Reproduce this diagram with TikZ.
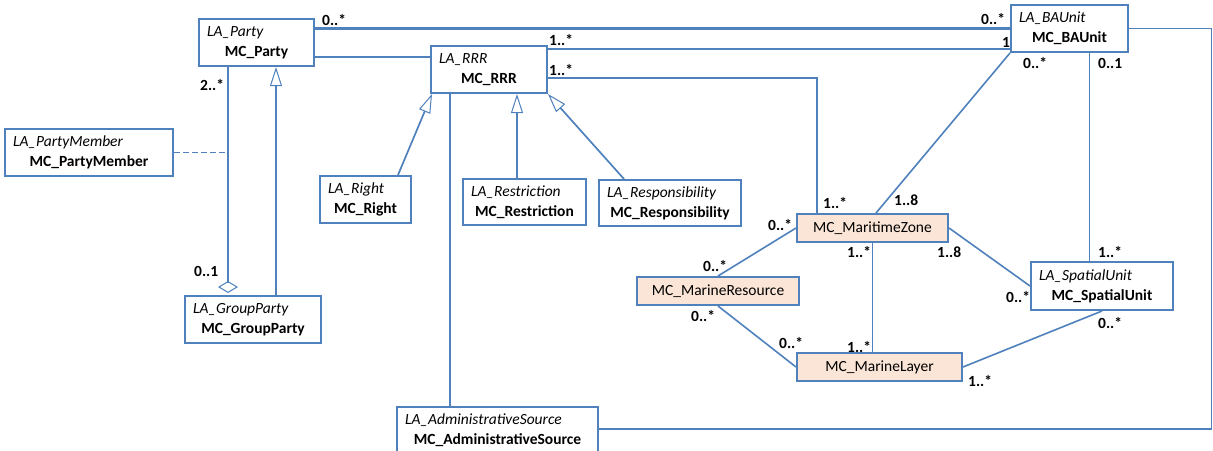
\documentclass[tikz,border=0pt]{standalone}
\usepackage{fontspec}
\setmainfont{Carlito}
\usepackage{tikz}
\usetikzlibrary{arrows.meta}
\definecolor{ofblue}{HTML}{4F81BD}
\definecolor{ofpeach}{HTML}{FBE5D6}
\newcommand{\clsname}[2]{\textit{#1}\\\hspace*{\fill}\textbf{#2}\hspace*{\fill}\mbox{}}

\begin{document}
\begin{tikzpicture}[
	x=1pt, y=-1pt,
	every node/.style={font=\fontsize{15.5}{20}\selectfont},
	cls/.style={draw=ofblue, line width=2pt, fill=white, align=left,
		inner xsep=8pt, inner ysep=0pt, minimum height=47pt},
	zonecls/.style={draw=ofblue, line width=2pt, fill=ofpeach,
		inner sep=0pt, minimum height=28pt},
	mult/.style={anchor=west, inner sep=0pt,
		font=\fontsize{15.5}{20}\selectfont\bfseries},
	assoc/.style={draw=ofblue, line width=1.6pt},
	thickline/.style={draw=ofblue, line width=2.3pt},
	thinline/.style={draw=ofblue, line width=1pt},
	genline/.style={draw=ofblue, line width=1.7pt,
		-{Triangle[open, length=19pt, width=12pt, line width=1pt]}}
]
	\useasboundingbox[fill=white] (0,0) rectangle (1213,450);

	% Party side
	\node[cls, text width=99pt] (party) at (256.5,42.5)
		{\clsname{LA\_Party}{MC\_Party}};
	\node[cls, text width=152pt] (member) at (89,152.5)
		{\clsname{LA\_PartyMember}{MC\_PartyMember}};
	\node[cls, text width=120pt] (group) at (253,319.5)
		{\clsname{LA\_GroupParty}{MC\_GroupParty}};

	% RRR and its kinds
	\node[cls, text width=100pt] (rrr) at (489,69.5)
		{\clsname{LA\_RRR}{MC\_RRR}};
	\node[cls, text width=75pt] (right) at (365.5,199.5)
		{\clsname{LA\_Right}{MC\_Right}};
	\node[cls, text width=107pt, minimum height=46pt] (restriction) at (524.5,202)
		{\clsname{LA\_Restriction}{MC\_Restriction}};
	\node[cls, text width=126pt, minimum height=46pt] (responsibility) at (670,203)
		{\clsname{LA\_Responsibility}{MC\_Responsibility}};
	\node[cls, text width=185pt] (admin) at (497.5,430.5)
		{\clsname{LA\_AdministrativeSource}{MC\_AdministrativeSource}};

	% BA unit and spatial unit
	\node[cls, text width=101pt] (baunit) at (1069.5,28.5)
		{\clsname{LA\_BAUnit}{MC\_BAUnit}};
	\node[cls, text width=126pt, minimum height=48pt] (spatial) at (1102,286)
		{\clsname{LA\_SpatialUnit}{MC\_SpatialUnit}};

	% Marine classes
	\node[zonecls, minimum width=151pt] (zone) at (872.5,228) {MC\_MaritimeZone};
	\node[zonecls, minimum width=162pt] (resource) at (718,291) {MC\_MarineResource};
	\node[zonecls, minimum width=165pt] (layer) at (879.5,367) {MC\_MarineLayer};

	% associations
	\draw[thickline] (party.east |- baunit.west) -- (baunit.west);
	\draw[thickline] ([yshift=-14.5pt]party.east) -- ([yshift=12.5pt]rrr.west);
	\draw[thickline] ([yshift=20.5pt]rrr.east) -- ([yshift=-20.5pt]baunit.west);
	\draw[thickline] ([yshift=-8.5pt]rrr.east) -| ([xshift=-55.5pt]zone.north);
	\draw[assoc] (baunit.south west) -- ([xshift=3.5pt]zone.north);
	\draw[thinline] ([xshift=19.5pt]baunit.south) -- ([xshift=-13pt]spatial.north);
	\draw[assoc] (baunit.east) -- ++(82.5,0) |- ([yshift=1.5pt]admin.east);
	\draw[assoc] ([xshift=-39pt]rrr.south) -- ([xshift=-47.5pt]admin.north);

	\draw[assoc] (resource.north) -- (zone.west);
	\draw[assoc] (resource.south) -- (layer.west);
	\draw[thinline] (zone.south) -- (zone.south |- layer.north);
	\draw[assoc] (zone.east) -- (spatial.west);
	\draw[assoc] (layer.east) -- (spatial.south);

	% generalisations
	\draw[genline] ([xshift=32.5pt]right.north) -- ([xshift=2pt]rrr.south west);
	\draw[genline, line width=2.3pt]
		([xshift=-7.5pt]restriction.north) -- ([xshift=28pt]rrr.south);
	\draw[genline] ([xshift=-46pt]responsibility.north) -- (rrr.south east);
	\draw[genline] ([xshift=23pt]group.north) -- ([xshift=19.5pt]party.south);

	% aggregation and association class
	\coordinate (aggtop) at ([xshift=-28.5pt]party.south);
	\draw[thickline, -{Diamond[open, length=12pt, width=20pt, line width=1pt]}]
		(aggtop) -- ([yshift=2pt]group.north -| aggtop);
	\draw[assoc, line width=1.2pt, dash pattern=on 6pt off 3pt]
		(member.east) -- (member.east -| aggtop);

	% multiplicities
	\foreach \x/\y/\t [count=\k] in {
		322/20/0..*, 981/19/0..*, 200/85/2..*, 194/271/0..1,
		549/40/1..*, 1002/42/1, 549/70/1..*, 823/203/1..*,
		1023/63/0..*, 894/200/1..8, 1098/63/0..1, 1098/252/1..*,
		768/225/0..*, 703/266/0..*, 691/316/0..*, 779/343/0..*,
		847/252/1..*, 847/347/1..*, 937/252/1..8, 1006/297/0..*,
		968/381/1..*, 1098/323/0..*}{
		\node[mult] (m\k) at (\x,\y) {\t};
	}
\end{tikzpicture}
\end{document}
